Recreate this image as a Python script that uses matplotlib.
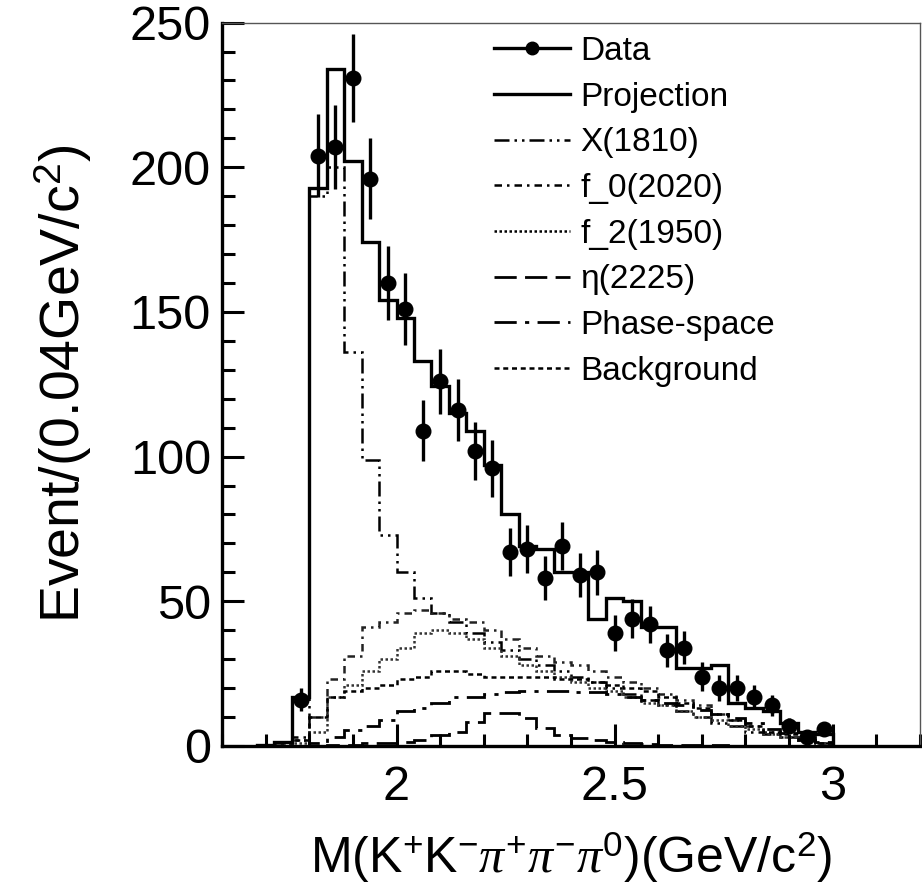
import numpy as np
import matplotlib
matplotlib.use("Agg")
import matplotlib.pyplot as plt
from matplotlib.lines import Line2D

plt.rcParams['font.family'] = ['Liberation Sans', 'DejaVu Sans']
plt.rcParams['mathtext.fontset'] = 'custom'
plt.rcParams['mathtext.rm'] = 'Liberation Sans'
plt.rcParams['mathtext.it'] = 'Liberation Serif:italic'

# ---- data (bins of 0.04 GeV starting at 1.68) ----
bin_start = 1.68
bin_width = 0.04

data_counts = [0, 0, 16, 204, 207, 231, 196, 160, 151, 109, 126, 116, 102, 96, 67, 68,
               58, 69, 59, 60, 39, 44, 42, 33, 34, 24, 20, 20, 17, 14, 7, 3, 6]

projection = [0.5, 1.5, 17, 193, 234, 202, 174, 154, 148, 133, 124.5, 115, 109, 97, 80, 69,
              68, 60, 60, 44, 51, 50, 41, 41, 27, 27, 28, 15, 13, 12, 8, 5, 4]

x1810 = [0, 0, 3, 190, 200, 136, 99, 73, 60, 51, 46, 43, 39, 36, 33, 30,
         28, 26, 24, 22, 20, 18, 16, 14, 12, 10, 8, 7, 5, 4, 3, 2, 1]

f0_2020 = [0, 0.5, 2, 10, 23, 31, 41, 43, 46, 47, 46, 44, 43, 40, 37, 34,
           31, 29, 28, 26, 24, 22, 20, 18, 16, 14, 11, 9, 7, 5, 3, 2, 1]

f2_1950 = [0, 0, 1, 5, 17, 21, 26, 30, 34, 39, 40, 39, 37, 34, 31, 28,
           26, 24, 22, 20, 19, 17, 15, 14, 12, 10, 9, 7, 6, 4, 3, 2, 1]

eta2225 = [0, 0, 0, 0, 0.5, 0.5, 1, 1, 1.5, 2, 3.8, 4.8, 8.3, 11.3, 11.3, 9.7,
           6.2, 3.8, 2.8, 2, 1.5, 1, 0.8, 0.5, 0.4, 0.3, 0.2, 0.1, 0, 0, 0, 0, 0]

phase_space = [0, 0, 0, 1, 3, 5.5, 7, 9, 12, 13, 15, 17, 17, 18, 18.5, 19,
               19, 19, 18.5, 18.5, 18, 17, 16, 15, 14, 12.5, 11, 9.5, 8, 6, 4.5, 3, 1.5]

background = [0.5, 1, 2, 10, 17, 19, 20, 21, 23, 24, 26, 26, 25, 24, 24, 24,
              24, 23, 23, 22, 21, 20, 19, 17, 15, 13, 11, 9, 7, 5, 4, 2, 1]

nb = len(data_counts)
edges = bin_start + bin_width * np.arange(nb + 1)
centers = edges[:-1] + bin_width / 2

fig = plt.figure(figsize=(9.22, 8.92), dpi=100)
ax = fig.add_axes([0.2408, 0.1637, 0.7570, 0.8110])

comp_lw = 1.8
ls_x = (0, (6, 2, 1, 2, 1, 2))
ls_f0 = (0, (3, 2, 1, 2))
ls_f2 = (0, (1, 1))
ls_eta = (0, (8, 3))
ls_ps = (0, (8, 3, 1.5, 3))
ls_bg = (0, (2, 1.5))

ax.stairs(x1810, edges, color='black', lw=comp_lw, linestyle=ls_x)
ax.stairs(f0_2020, edges, color='#222222', lw=comp_lw, linestyle=ls_f0)
ax.stairs(f2_1950, edges, color='#333333', lw=comp_lw, linestyle=ls_f2)
ax.stairs(eta2225, edges, color='black', lw=2.0, linestyle=ls_eta)
ax.stairs(phase_space, edges, color='black', lw=2.0, linestyle=ls_ps)
ax.stairs(background, edges, color='black', lw=comp_lw, linestyle=ls_bg)
ax.stairs(projection, edges, color='black', lw=2.4)

d = np.array(data_counts, dtype=float)
mask = d > 0
ax.errorbar(centers[mask], d[mask], yerr=np.sqrt(d[mask]), fmt='o', color='black',
            markersize=10.5, elinewidth=2.4, capsize=0, zorder=5)

ax.set_xlim(1.6, 3.2)
ax.set_ylim(0, 250)
ax.set_xticks([2, 2.5, 3])
ax.set_xticklabels(['2', '2.5', '3'])
ax.set_xticks(np.arange(1.6, 3.21, 0.1), minor=True)
ax.set_yticks([0, 50, 100, 150, 200, 250])
ax.set_yticks(np.arange(0, 251, 10), minor=True)
ax.tick_params(which='both', direction='in', labelsize=35, width=2.2)
ax.tick_params(which='major', length=16)
ax.tick_params(which='minor', length=9)
ax.tick_params(axis='x', pad=14)
ax.tick_params(axis='y', pad=8)
ax.tick_params(top=False, right=False, which='both')

for s in ['left', 'bottom']:
    ax.spines[s].set_linewidth(2.4)
for s in ['top', 'right']:
    ax.spines[s].set_linewidth(1.0)
    ax.spines[s].set_color('#555555')

ax.set_ylabel(r'Event/(0.04GeV/c$^{2}$)', fontsize=40, labelpad=26)
ax.set_xlabel(r'M(K$^{+}$K$^{-}$$\pi^{+}\pi^{-}\pi^{0}$)(GeV/c$^{2}$)', fontsize=36, labelpad=14)

handles = [
    Line2D([], [], color='black', lw=2.4, marker='o', markersize=9),
    Line2D([], [], color='black', lw=2.4),
    Line2D([], [], color='black', lw=comp_lw, linestyle=ls_x),
    Line2D([], [], color='black', lw=comp_lw, linestyle=ls_f0),
    Line2D([], [], color='black', lw=comp_lw, linestyle=ls_f2),
    Line2D([], [], color='black', lw=2.0, linestyle=ls_eta),
    Line2D([], [], color='black', lw=2.0, linestyle=ls_ps),
    Line2D([], [], color='black', lw=comp_lw, linestyle=ls_bg),
]
labels = ['Data', 'Projection', 'X(1810)', 'f_0(2020)', 'f_2(1950)', 'η(2225)',
          'Phase-space', 'Background']
ax.legend(handles, labels, loc='upper left', bbox_to_anchor=(0.37, 1.0), frameon=False,
          fontsize=24, handlelength=2.3, handletextpad=0.3, labelspacing=0.44,
          borderaxespad=0.0)

fig.savefig('out.png', dpi=100)
